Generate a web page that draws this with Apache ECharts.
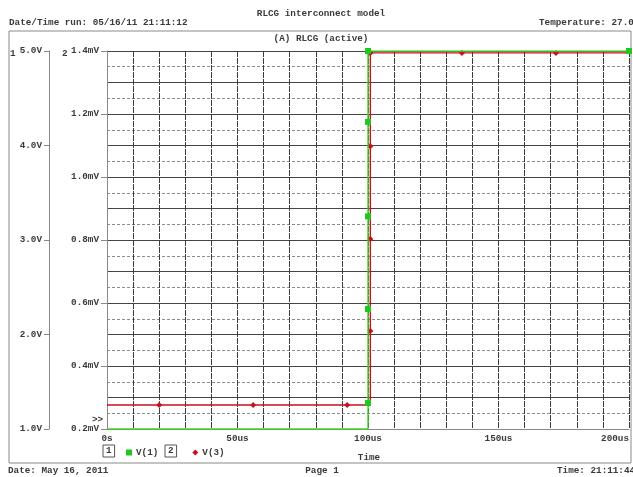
<!DOCTYPE html>
<html>
<head>
<meta charset="utf-8">
<script src="https://cdn.jsdelivr.net/npm/echarts@6/dist/echarts.min.js"></script>
<style>html,body{margin:0;padding:0;background:#fff}#c{width:633px;height:477px}</style>
</head>
<body>
<div id="c"></div>
<script>
// ---- data (time in us) ----
const xTickLabels = ['0s', '50us', '100us', '150us', '200us'];
const vTickLabels = ['1.0V', '2.0V', '3.0V', '4.0V', '5.0V'];
const mvTickLabels = ['0.2mV', '0.4mV', '0.6mV', '0.8mV', '1.0mV', '1.2mV', '1.4mV'];

// V(1) in volts (axis 1)
const v1Time = [0, 100, 100, 100, 100, 100, 100, 200];
const v1Val  = [1.0, 1.0, 1.275, 2.27, 3.25, 4.25, 5.0, 5.0];
const v1Mark = [0, 0, 1, 1, 1, 1, 1, 1];

// V(3) in mV (axis 2)
const v3Time = [0, 20, 56, 92, 100.9, 100.9, 100.9, 100.9, 100.9, 136, 172, 200];
const v3Val  = [0.276, 0.276, 0.276, 0.276, 0.276, 0.511, 0.803, 1.098, 1.394, 1.394, 1.394, 1.394];
const v3Mark = [0, 1, 1, 1, 0, 1, 1, 1, 1, 1, 1, 0];

const FONT = 'Liberation Mono';
const TXT = '#3a3a3a';
const chart = echarts.init(document.getElementById('c'));

function items(ts, vs, ms, sym) {
  return ts.map((t, i) => ({ value: [t, vs[i]], symbol: ms[i] ? sym : 'none' }));
}
const ts = { fontFamily: FONT, fontSize: 9.3, fontWeight: 'bold', fill: TXT };
function txt(x, y, s, align) {
  return { type: 'text', x: x, y: y, style: Object.assign({}, ts, { text: s, align: align || 'left', verticalAlign: 'middle' }) };
}

chart.setOption({
  animation: false,
  backgroundColor: '#fff',
  grid: { left: 107, right: 4, top: 51, bottom: 48, containLabel: false },
  xAxis: {
    type: 'value', min: 0, max: 200, interval: 10,
    axisLine: { show: true, lineStyle: { color: '#888' } },
    axisTick: { show: false },
    axisLabel: {
      margin: 5, fontFamily: FONT, fontSize: 9.3, fontWeight: 'bold', color: TXT,
      alignMaxLabel: 'right',
      formatter: v => (v % 50 === 0 ? xTickLabels[v / 50] : '')
    },
    splitLine: { show: true, lineStyle: { color: '#3c3c3c', width: 1, type: [6, 1] } }
  },
  yAxis: [
    { // mV axis (axis 2)
      type: 'value', min: 0.2, max: 1.4, interval: 0.2, position: 'left', offset: 0,
      axisLine: { show: true, lineStyle: { color: '#888' } },
      axisTick: { show: true, length: 6, lineStyle: { color: '#888' } },
      axisLabel: {
        margin: 8, fontFamily: FONT, fontSize: 9.3, fontWeight: 'bold', color: TXT,
        formatter: v => mvTickLabels[Math.round((v - 0.2) / 0.2)]
      },
      splitLine: { show: false }
    },
    { // V axis (axis 1)
      type: 'value', min: 1, max: 5, interval: 1, position: 'left', offset: 58,
      axisLine: { show: true, lineStyle: { color: '#888' } },
      axisTick: { show: true, length: 5, lineStyle: { color: '#888' } },
      axisLabel: {
        margin: 7, fontFamily: FONT, fontSize: 9.3, fontWeight: 'bold', color: TXT,
        formatter: v => vTickLabels[Math.round(v - 1)]
      },
      splitLine: { show: false }
    },
    { // grid-only axis on the mV scale
      type: 'value', min: 0.2, max: 1.4, interval: 0.1, position: 'right',
      axisLine: { show: false }, axisTick: { show: false }, axisLabel: { show: false },
      splitLine: { show: true, lineStyle: { color: '#444', width: 1 } },
      minorTick: { show: false, splitNumber: 2 },
      minorSplitLine: { show: true, lineStyle: { color: '#8c8c8c', width: 1, type: [3, 2] } }
    }
  ],
  legend: {
    left: 121, top: 443, itemWidth: 6, itemHeight: 6, itemGap: 34,
    textStyle: { fontFamily: FONT, fontSize: 9.3, fontWeight: 'bold', color: TXT, padding: [0, 0, 0, -1] },
    data: [{ name: 'V(1)', icon: 'rect' }, { name: 'V(3)', icon: 'diamond' }]
  },
  series: [
    {
      name: 'V(1)', type: 'line', yAxisIndex: 1,
      data: items(v1Time, v1Val, v1Mark, 'rect'),
      showAllSymbol: true, symbolSize: 6,
      itemStyle: { color: '#1ec81e' },
      lineStyle: { color: '#3cd81a', width: 1.4 },
      z: 5
    },
    {
      name: 'V(3)', type: 'line', yAxisIndex: 0,
      data: items(v3Time, v3Val, v3Mark, 'diamond'),
      showAllSymbol: true, symbolSize: 6,
      itemStyle: { color: '#c8101e' },
      lineStyle: { color: '#c8101e', width: 1.4 },
      z: 4
    }
  ],
  graphic: [
    { type: 'rect', shape: { x: 9, y: 31, width: 622, height: 432 }, style: { fill: 'none', stroke: '#8a8a8a', lineWidth: 1 }, silent: true, z: -1 },
    txt(321, 14, 'RLCG interconnect model', 'center'),
    txt(9, 23, 'Date/Time run: 05/16/11 21:11:12'),
    txt(539, 23, 'Temperature: 27.0'),
    txt(321, 39, '(A) RLCG (active)', 'center'),
    txt(10, 54, '1'),
    txt(62, 54, '2'),
    txt(92, 420, '>>'),
    txt(369, 458, 'Time', 'center'),
    txt(8, 471, 'Date: May 16, 2011'),
    txt(322, 471, 'Page 1', 'center'),
    txt(557, 471, 'Time: 21:11:44'),
    { type: 'text', x: 103, y: 451, style: Object.assign({}, ts, { text: '1', verticalAlign: 'middle', borderColor: '#555', borderWidth: 1, padding: [2, 3, 1, 3] }) },
    { type: 'text', x: 165, y: 451, style: Object.assign({}, ts, { text: '2', verticalAlign: 'middle', borderColor: '#555', borderWidth: 1, padding: [2, 3, 1, 3] }) }
  ]
});
</script>
</body>
</html>
